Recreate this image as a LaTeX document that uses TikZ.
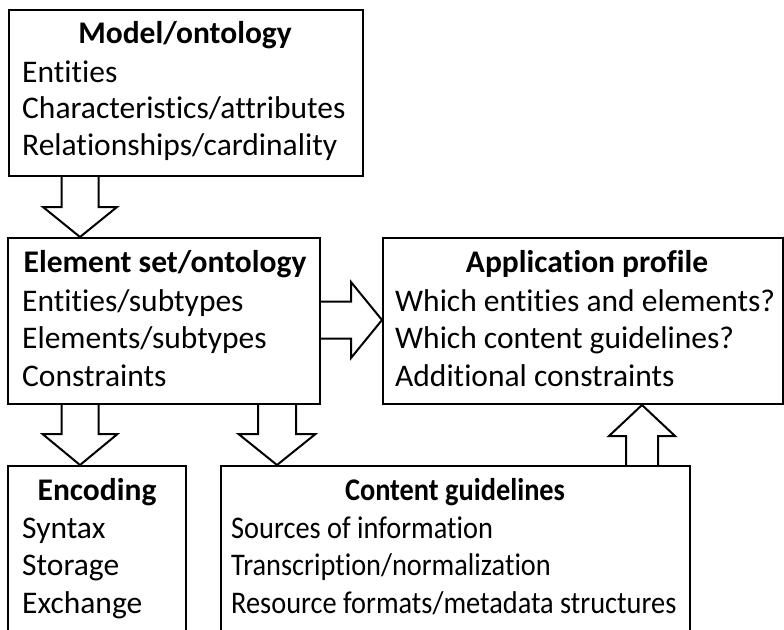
\documentclass[tikz,border=0pt]{standalone}
\usepackage{fontspec}
\setmainfont{Carlito}[Ligatures=NoCommon]
\newfontfamily\narrowcarlito{Carlito}[Ligatures=NoCommon, FakeStretch=0.9]
\usetikzlibrary{calc}
\tikzset{
  box/.style={draw=black, line width=2pt, rectangle, anchor=north west, inner sep=0pt},
  blk/.style={draw=black, line width=2pt, line join=miter},
  ttl/.style={anchor=base, inner sep=0pt, font=\fontsize{31.5}{36}\selectfont\bfseries},
  itm/.style={anchor=base west, inner sep=0pt, font=\fontsize{31.5}{36}\selectfont},
  sttl/.style={ttl, font=\narrowcarlito\fontsize{31.5}{36}\selectfont\bfseries},
  sitm/.style={itm, font=\narrowcarlito\fontsize{31.5}{36}\selectfont},
}
% vertical block arrow: start, end, shaft half, head half, signed head length
\newcommand\BlkV[5]{%
  \draw[blk] let \p1=(#1), \p2=(#2) in
    (\x1-#3,\y1) -- (\x1-#3,\y2+#5) -- (\x1-#4,\y2+#5) -- (\x1,\y2)
    -- (\x1+#4,\y2+#5) -- (\x1+#3,\y2+#5) -- (\x1+#3,\y1);}
% horizontal block arrow pointing right
\newcommand\BlkH[5]{%
  \draw[blk] let \p1=(#1), \p2=(#2) in
    (\x1,\y1+#3) -- (\x2-#5,\y1+#3) -- (\x2-#5,\y1+#4) -- (\x2,\y1)
    -- (\x2-#5,\y1-#4) -- (\x2-#5,\y1-#3) -- (\x1,\y1-#3);}
\begin{document}
\begin{tikzpicture}[x=1pt,y=-1pt]
\useasboundingbox (0,0) rectangle (784,629);
\clip (0,0) rectangle (784,629);
% boxes
\node[box, minimum width=354pt, minimum height=166pt] (m) at (8,9) {};
\node[box, minimum width=312pt, minimum height=166pt] (e) at (7,237) {};
\node[box, minimum width=400pt, minimum height=166pt] (a) at (382,237) {};
\node[box, minimum width=178pt, minimum height=180pt] (enc) at (7,465) {};
\node[box, minimum width=469pt, minimum height=180pt] (c) at (220,465) {};
% texts
\node[ttl] (mt) at (185,43) {Model/ontology};
\node[itm] (m1) at (22,82) {Entities};
\node[itm] (m2) at (22,118) {Characteristics/attributes};
\node[itm] (m3) at (22,155) {Relationships/cardinality};
\node[ttl] (et) at (165,272) {Element set/ontology};
\node[itm] (e1) at (22,311) {Entities/subtypes};
\node[itm] (e2) at (22,348) {Elements/subtypes};
\node[itm] (e3) at (22,386) {Constraints};
\node[ttl] (at) at (587,272) {Application profile};
\node[itm] (a1) at (395,311) {Which entities and elements?};
\node[itm] (a2) at (395,348) {Which content guidelines?};
\node[itm] (a3) at (395,386) {Additional constraints};
\node[ttl] (enct) at (97,500) {Encoding};
\node[itm] (enc1) at (22,538) {Syntax};
\node[itm] (enc2) at (22,575) {Storage};
\node[itm] (enc3) at (22,613) {Exchange};
\node[sttl] (ct) at (455,500) {Content guidelines};
\node[sitm] (c1) at (231,538) {Sources of information};
\node[sitm] (c2) at (231,575) {Transcription/normalization};
\node[sitm] (c3) at (231,613) {Resource formats/metadata structures};
% arrow anchor points
\coordinate (s1) at (m.south -| 80,0);
\coordinate (t1) at (e.north -| 80,0);
\coordinate (s2) at (e.east |- 0,320);
\coordinate (t2) at (a.west |- 0,320);
\coordinate (s3) at (e.south -| 80,0);
\coordinate (t3) at (enc.north -| 80,0);
\coordinate (s4) at (e.south -| 277,0);
\coordinate (t4) at (c.north -| 277,0);
\coordinate (s5) at (c.north -| 642,0);
\coordinate (t5) at (a.south -| 642,0);
% block arrows
\BlkV{s1}{t1}{18.5pt}{37pt}{30pt}
\BlkH{s2}{t2}{18.5pt}{38pt}{31pt}
\BlkV{s3}{t3}{18.5pt}{37.5pt}{31pt}
\BlkV{s4}{t4}{19pt}{38.5pt}{31pt}
\BlkV{s5}{t5}{16pt}{33pt}{-31pt}
\end{tikzpicture}
\end{document}
